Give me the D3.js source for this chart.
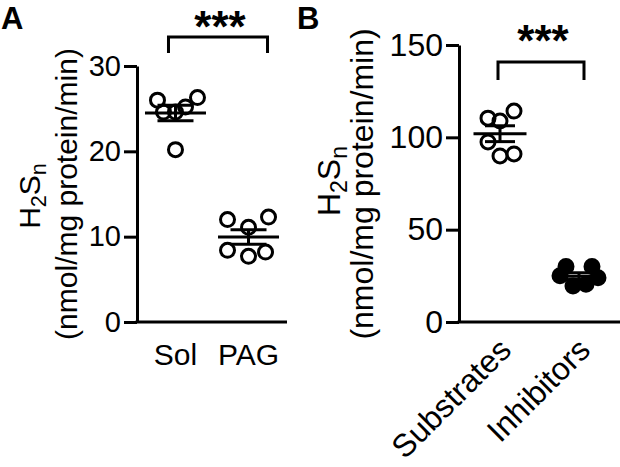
<!DOCTYPE html>
<html>
<head>
<meta charset="utf-8">
<script src="https://cdnjs.cloudflare.com/ajax/libs/d3/7.8.5/d3.min.js"></script>
<style>
	html, body { margin: 0; padding: 0; background: #fff; }
	svg { display: block; font-family: "Liberation Sans", Arial, sans-serif; }
</style>
</head>
<body>
<div id="chart"></div>
<script>
// panel A: sulfane sulfur production, vehicle vs PAG
var groupsA = ["Sol", "PAG"];
var solValues = [26.0, 26.3, 24.6, 24.6, 25.2, 20.2];
var pagValues = [12.0, 11.1, 12.3, 8.4, 7.7, 8.2];
var solJitter = [-18, 22, -12, 0, 10, 0];
var pagJitter = [-21, 0, 20, -21, 0, 17];
var ticksA = [0, 10, 20, 30];

// panel B: substrates vs inhibitors
var groupsB = ["Substrates", "Inhibitors"];
var substrateValues = [110.4, 108.8, 114.2, 97.5, 89.9, 91.0];
var inhibitorValues = [30, 30, 25, 24, 19.5, 20.5];
var substrateJitter = [-12, 0, 14, -12, 0, 14];
var inhibitorJitter = [-13, 13, -19, 19, -6, 7];
var ticksB = [0, 50, 100, 150];

var W = 620, H = 467;
var svg = d3.select("#chart").append("svg")
	.attr("width", W)
	.attr("height", H);

function drawPanel(o) {
	var g = svg.append("g");
	var y = d3.scaleLinear().domain([0, o.max]).range([322, o.top]);
	var x = d3.scalePoint().domain(o.groups).range([o.left, o.right]).padding(o.pad);

	// y axis
	var yAxis = d3.axisLeft(y)
		.tickValues(o.ticks)
		.tickSize(13)
		.tickSizeOuter(0)
		.tickPadding(3);
	var ya = g.append("g")
		.attr("transform", "translate(" + o.left + ",0)")
		.call(yAxis);
	ya.selectAll("path, line").attr("stroke", "#000").attr("stroke-width", 3);
	ya.selectAll("text")
		.attr("fill", "#000")
		.style("font-size", o.tickFont + "px");

	// x axis (baseline only)
	g.append("line")
		.attr("x1", o.left - 1.5).attr("x2", o.right)
		.attr("y1", y(0)).attr("y2", y(0))
		.attr("stroke", "#000").attr("stroke-width", 3);

	// group labels
	var lab = g.selectAll(".xlab")
		.data(o.groups).enter()
		.append("text")
			.attr("class", "xlab")
			.style("font-size", o.labFont + "px")
			.text(function(d) { return d; });
	if(o.rotate) {
		lab.attr("text-anchor", "end")
			.attr("transform", function(d) {
				return "translate(" + (x(d) + 13) + ",352) rotate(-45)";
			});
	} else {
		lab.attr("text-anchor", "middle")
			.attr("x", function(d) { return x(d); })
			.attr("y", 365);
	}

	// points
	o.series.forEach(function(s, si) {
		var cx = x(o.groups[si]);
		g.selectAll(".pt" + si)
			.data(s.values).enter()
			.append("circle")
				.attr("cx", function(d, i) { return cx + s.jitter[i]; })
				.attr("cy", function(d) { return y(d); })
				.attr("r", 7)
				.attr("fill", s.filled ? "#000" : "none")
				.attr("stroke", "#000")
				.attr("stroke-width", 3);

		// mean +/- SEM
		var m = d3.mean(s.values);
		var sem = d3.deviation(s.values) / Math.sqrt(s.values.length);
		var mw = o.meanW / 2, cw = o.capW / 2;
		var ln = [
			[cx - mw, cx + mw, y(m), y(m)],
			[cx, cx, y(m - sem), y(m + sem)],
			[cx - cw, cx + cw, y(m + sem), y(m + sem)],
			[cx - cw, cx + cw, y(m - sem), y(m - sem)]
		];
		g.selectAll(".sem" + si)
			.data(ln).enter()
			.append("line")
				.attr("x1", function(d) { return d[0]; })
				.attr("x2", function(d) { return d[1]; })
				.attr("y1", function(d) { return d[2]; })
				.attr("y2", function(d) { return d[3]; })
				.attr("stroke", "#000")
				.attr("stroke-width", 3);
	});

	// significance bracket
	var bx1 = x(o.groups[0]) + o.br[0], bx2 = x(o.groups[1]) + o.br[1];
	g.append("path")
		.attr("d", "M" + bx1 + "," + o.br[3] + "V" + o.br[2] + "H" + bx2 + "V" + o.br[3])
		.attr("fill", "none")
		.attr("stroke", "#000")
		.attr("stroke-width", 3);
	g.append("text")
		.attr("x", (bx1 + bx2) / 2 + 2)
		.attr("y", o.br[2] + o.starDy)
		.attr("text-anchor", "middle")
		.style("font-size", "44px")
		.style("font-weight", "bold")
		.text("***");

	// y label
	var yl = g.append("text")
		.attr("transform", "translate(" + o.ylab1[0] + "," + o.ylab1[1] + ") rotate(-90)")
		.attr("text-anchor", "middle")
		.style("font-size", o.axFont + "px");
	yl.append("tspan").text("H");
	yl.append("tspan").attr("dy", "0.3em").style("font-size", "0.72em").text("2");
	yl.append("tspan").attr("dy", "-0.22em").text("S");
	yl.append("tspan").attr("dy", "0.3em").style("font-size", "0.72em").text("n");
	g.append("text")
		.attr("transform", "translate(" + o.ylab2[0] + "," + o.ylab2[1] + ") rotate(-90)")
		.attr("text-anchor", "middle")
		.style("font-size", o.axFont + "px")
		.text("(nmol/mg protein/min)");

	// panel letter
	g.append("text")
		.attr("x", o.letter[0])
		.attr("y", o.letter[1])
		.style("font-size", "31px")
		.style("font-weight", "bold")
		.text(o.name);
}

drawPanel({
	name: "A", letter: [1, 29],
	groups: groupsA, ticks: ticksA, max: 30, top: 66,
	left: 137, right: 287, pad: 0.527,
	tickFont: 29, labFont: 30, axFont: 30,
	meanW: 61, capW: 36,
	series: [
		{ values: solValues, jitter: solJitter },
		{ values: pagValues, jitter: pagJitter }
	],
	br: [-7, 19, 37, 53], starDy: 5,
	ylab1: [40, 196], ylab2: [77, 194]
});

drawPanel({
	name: "B", letter: [297, 29],
	groups: groupsB, ticks: ticksB, max: 150, top: 45,
	left: 459, right: 620, pad: 0.519,
	tickFont: 32, labFont: 32, axFont: 32, rotate: true,
	meanW: 53, capW: 30,
	series: [
		{ values: substrateValues, jitter: substrateJitter },
		{ values: inhibitorValues, jitter: inhibitorJitter, filled: true }
	],
	br: [-2, 5, 62, 80], starDy: -6,
	ylab1: [340, 181], ylab2: [373, 184]
});
</script>
</body>
</html>
